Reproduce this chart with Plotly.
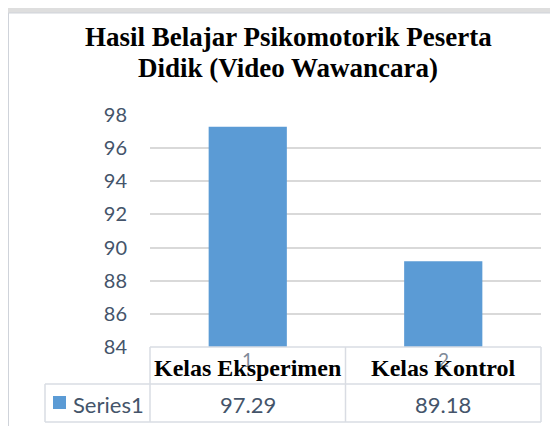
import plotly.graph_objects as go

categories = ["Kelas Eksperimen", "Kelas Kontrol"]
category_numbers = ["1", "2"]
series_name = "Series1"
values = [97.29, 89.18]
value_labels = ["97.29", "89.18"]
y_ticks = [84, 86, 88, 90, 92, 94, 96, 98]
title_lines = ["Hasil Belajar Psikomotorik Peserta", "Didik (Video Wawancara)"]

PAGE_W, PAGE_H = 558, 426
OFF = 8                      # default body margin of the html page
W, H = PAGE_W - OFF, PAGE_H - OFF
L, R, T, B = 150, 541, 115, 347   # plot area in page pixels
PW, PH = R - L, B - T

def px(x):
    return (x - L) / PW

def py(y):
    return (B - y) / PH

BAR = "#5b9bd5"
TXT = "#44546a"
GRID = "#d9d9d9"
TBL = "#d9dce3"

fig = go.Figure()
fig.add_trace(go.Bar(x=categories, y=values, name=series_name,
                     marker=dict(color=BAR, line=dict(width=0)), width=0.4))

shapes = []
# white chart area over grey scanned page
shapes.append(dict(type="rect", xref="paper", yref="paper", layer="below",
                   x0=px(8.5), x1=px(PAGE_W + 5), y0=py(13), y1=py(PAGE_H + 5),
                   fillcolor="white", line=dict(color="#cfd3da", width=1)))
# data table lines
row_top, row_mid, row_bot = py(347), py(384), py(422)
xl = px(45)
for yv, x0 in [(row_top, 0), (row_mid, xl), (row_bot, xl)]:
    shapes.append(dict(type="line", xref="paper", yref="paper", x0=x0, x1=1, y0=yv, y1=yv,
                       line=dict(color=TBL, width=1.5)))
shapes.append(dict(type="line", xref="paper", yref="paper", x0=xl, x1=xl, y0=row_mid, y1=row_bot,
                   line=dict(color=TBL, width=1.5)))
for xv in [0, 0.5, 1]:
    shapes.append(dict(type="line", xref="paper", yref="paper", x0=xv, x1=xv, y0=row_top, y1=row_bot,
                       line=dict(color=TBL, width=1.5)))
# legend key square
shapes.append(dict(type="rect", xref="paper", yref="paper", x0=px(53), x1=px(66), y0=py(396), y1=py(409),
                   fillcolor=BAR, line=dict(width=0)))

annotations = []
for line, yc in zip(title_lines, [37, 68]):
    annotations.append(dict(xref="paper", yref="paper", x=px(288), y=py(yc), xanchor="center", yanchor="middle",
                            text="<b>" + line + "</b>", showarrow=False,
                            font=dict(family="Liberation Serif", size=27, color="black")))
for cat, num, lab in zip(categories, category_numbers, value_labels):
    annotations.append(dict(xref="x", yref="paper", x=cat, y=py(359), text=num, showarrow=False,
                            xanchor="center", yanchor="middle", font=dict(family="Lato", size=19, color="#7f8a99")))
    annotations.append(dict(xref="x", yref="paper", x=cat, y=py(368), text="<b>" + cat + "</b>", showarrow=False,
                            xanchor="center", yanchor="middle", font=dict(family="Liberation Serif", size=24, color="black")))
    annotations.append(dict(xref="x", yref="paper", x=cat, y=py(404), text=lab, showarrow=False,
                            xanchor="center", yanchor="middle", font=dict(family="Lato", size=22, color=TXT)))
annotations.append(dict(xref="paper", yref="paper", x=px(71), y=py(404), text=series_name, showarrow=False,
                        xanchor="left", yanchor="middle", font=dict(family="Lato", size=22, color=TXT)))

fig.update_layout(
    width=W, height=H,
    margin=dict(l=L - OFF, r=PAGE_W - R, t=T - OFF, b=PAGE_H - B, pad=0),
    paper_bgcolor="#dedede", plot_bgcolor="rgba(0,0,0,0)",
    showlegend=False,
    shapes=shapes, annotations=annotations,
    xaxis=dict(showticklabels=False, showgrid=False, zeroline=False, showline=False, ticks=""),
    yaxis=dict(range=[84, 98], tickvals=y_ticks, ticktext=[str(v) for v in y_ticks],
               showgrid=True, gridcolor=GRID, gridwidth=1.5, zeroline=False, showline=False,
               ticks="", ticklabelstandoff=22,
               tickfont=dict(family="Lato", size=20, color=TXT)),
)
fig.write_html("out.html")
